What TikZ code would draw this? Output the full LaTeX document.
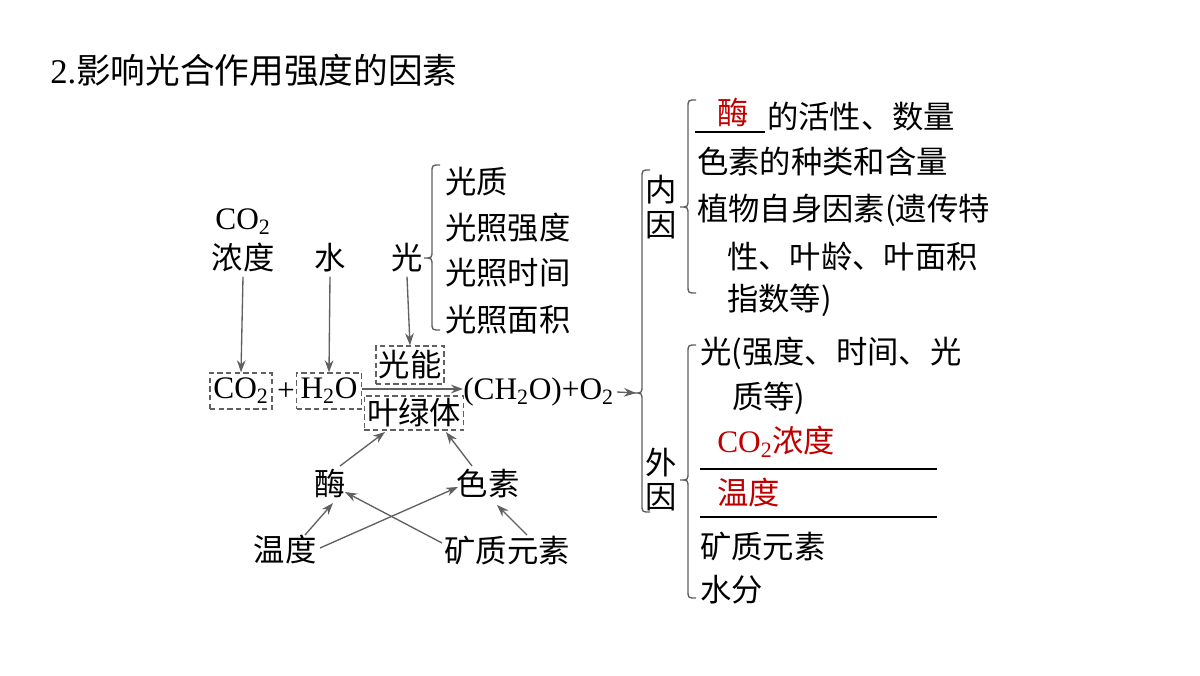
\documentclass[tikz,border=0pt]{standalone}
\usepackage{fontspec}
\setmainfont{Liberation Serif}
\newfontfamily\cjk{Noto Sans CJK SC}
\usetikzlibrary{arrows.meta}
\definecolor{ln}{HTML}{606060}
\definecolor{rd}{HTML}{C00000}
\newcommand\mybrace[4]{\draw[ln,line width=1pt] (#1+8,#2) .. controls (#1,#2) .. (#1,#2+8) -- (#1,#4-8) .. controls (#1,#4) .. (#1-8,#4) .. controls (#1,#4) .. (#1,#4+8) -- (#1,#3-8) .. controls (#1,#3) .. (#1+8,#3);}
\begin{document}
\begin{tikzpicture}[x=0.75pt,y=-0.75pt,
  every node/.style={inner sep=0pt,font=\fontsize{23.5}{28}\selectfont},
  t/.style={anchor=west},
  box/.style={draw=ln,dash pattern=on 4pt off 2.5pt,line width=1pt,inner sep=2pt,minimum height=27pt},
  ar/.style={ln,line width=1pt,-{Stealth[length=9pt,width=6.5pt]}}]
\useasboundingbox (0,0) rectangle (1200,675);
\node[t,font=\fontsize{26}{30}\selectfont] (title) at (50,70) {2.{\cjk 影响光合作用强度的因素}};
\node (co2t) at (243,222) {CO\textsubscript{2}};
\node (nd) at (243,258) {\cjk 浓度};
\node (shui) at (330,258) {\cjk 水};
\node (guang) at (407,258) {\cjk 光};
\mybrace{432}{165}{330}{258}
\node[t] (g1) at (445,182) {\cjk 光质};
\node[t] (g2) at (445,228) {\cjk 光照强度};
\node[t] (g3) at (445,273) {\cjk 光照时间};
\node[t] (g4) at (445,320) {\cjk 光照面积};
\node[box,minimum width=46.5pt] (co2) at (241,391) {CO\textsubscript{2}};
\node (plus) at (286,392) {+};
\node[box,minimum width=48.75pt] (h2o) at (329,391) {H\textsubscript{2}O};
\node[box,minimum height=28.5pt] (gn) at (410,365) {\cjk 光能};
\node[box,minimum height=24.75pt] (ylt) at (414,413) {\cjk 叶绿体};
\node[t] (prod) at (463,392) {(CH\textsubscript{2}O)+O\textsubscript{2}};
\coordinate (bt) at (636,393);
\draw[ar] (nd.south) ++(0,4) -- (co2.north);
\draw[ar] (shui.south) ++(0,4) -- (h2o.north);
\draw[ar] (guang.south) ++(0,4) -- (gn.north);
\draw[ar] (h2o.east |- 0,389) -- (prod.west |- 0,389);
\draw[ar] (prod.east) ++(3,0) -- (bt);
\node (mei) at (330,483) {\cjk 酶};
\node (ss) at (488,483) {\cjk 色素};
\node (wd) at (285,550) {\cjk 温度};
\node (kz) at (507,550) {\cjk 矿质元素};
\draw[ar] (340,466) -- (385,432);
\draw[ar] (472,466) -- (446,432);
\draw[ar] (305,535) -- (333,503);
\draw[ar] (320,548) -- (458,487);
\draw[ar] (442,543) -- (345,492);
\draw[ar] (527,535) -- (497,505);
\mybrace{642}{170}{512}{393}
\node (ny1) at (661,190) {\cjk 内};
\node (ny2) at (661,225) {\cjk 因};
\node (wy1) at (661,463) {\cjk 外};
\node (wy2) at (661,497) {\cjk 因};
\mybrace{688}{100}{293}{207}
\mybrace{688}{345}{598}{480}
\draw[black,line width=1pt] (695,132) -- (765,132);
\node[rd] (m) at (733,112) {\cjk 酶};
\node[t] (a1) at (767,117) {\cjk 的活性、数量};
\node[t] (a2) at (697,162) {\cjk 色素的种类和含量};
\node[t] (a3) at (697,210) {\cjk 植物自身因素(遗传特};
\node[t] (a4) at (727,257) {\cjk 性、叶龄、叶面积};
\node[t] (a5) at (727,300) {\cjk 指数等)};
\node[t] (b1) at (700,353) {\cjk 光(强度、时间、光};
\node[t] (b2) at (732,398) {\cjk 质等)};
\node[t,rd] (b3) at (717,442) {CO\textsubscript{2}{\cjk 浓度}};
\draw[black,line width=1pt] (700,469) -- (937,469);
\node[t,rd] (b4) at (717,493) {\cjk 温度};
\draw[black,line width=1pt] (700,517) -- (937,517);
\node[t] (b5) at (700,546) {\cjk 矿质元素};
\node[t] (b6) at (700,590) {\cjk 水分};
\end{tikzpicture}
\end{document}
